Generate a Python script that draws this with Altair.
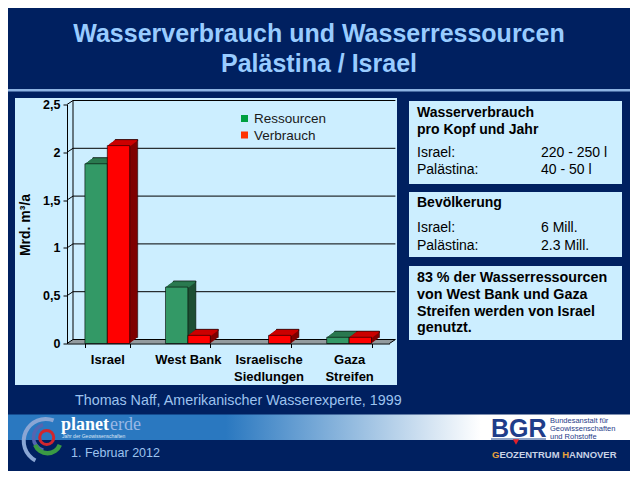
import altair as alt
import pandas as pd

# ---------------- data ----------------
categories = ["Israel", "West Bank", "Israelische Siedlungen", "Gaza Streifen"]
series = ["Ressourcen", "Verbrauch"]
ressourcen = [1.88, 0.59, 0.0, 0.065]
verbrauch = [2.07, 0.085, 0.085, 0.065]
y_ticks = [0, 0.5, 1, 1.5, 2, 2.5]

title_lines = ["Wasserverbrauch und Wasserressourcen", "Palästina / Israel"]
box1_head = ["Wasserverbrauch", "pro Kopf und Jahr"]
box1_rows = [("Israel:", "220 - 250 l"), ("Palästina:", "40 - 50 l")]
box2_head = ["Bevölkerung"]
box2_rows = [("Israel:", "6 Mill."), ("Palästina:", "2.3 Mill.")]
box3_lines = ["83 % der Wasserressourcen", "von West Bank und Gaza",
              "Streifen werden von Israel", "genutzt."]
source_text = "Thomas Naff, Amerikanischer Wasserexperte, 1999"
date_text = "1. Februar 2012"
y_title = "Mrd. m³/a"

rows = []
for c, r, v in zip(categories, ressourcen, verbrauch):
    rows.append({"category": c, "series": series[0], "value": r})
    rows.append({"category": c, "series": series[1], "value": v})
bars = pd.DataFrame(rows)
bars_nz = bars[bars["value"] > 0].copy()
bars_nz["zero"] = 0.0
grid = pd.DataFrame({"v": y_ticks})
one = pd.DataFrame({"_": [0]})

# ---------------- layout ----------------
W, H = 322.4, 239
OX, OY = 67, 104.5          # page position of plot origin
FONT = "Liberation Sans"
NAVY = "#002060"
PANEL = "#cceeff"
DX, DY, NL = 8, -6, 10       # bar depth
WDX, WDY = 6, -4             # wall depth
PAD_IN, PAD_OUT = 0.444, 0.222
BW = (W / len(categories)) * (1 - PAD_IN) / len(series)   # width of one bar

FRONT = {"Ressourcen": "#339966", "Verbrauch": "#ff0000"}
TOP = {"Ressourcen": "#2b7a50", "Verbrauch": "#cc0000"}
SIDE = {"Ressourcen": "#1d4f33", "Verbrauch": "#7f0000"}


def px(x):
    return x - OX


def py(y):
    return y - OY


def text(s, x, y, size, color="#000000", bold=False, align="left",
         baseline="alphabetic", angle=None, font=FONT):
    kw = dict(fontSize=size, color=color, fontWeight="bold" if bold else "normal",
              align=align, baseline=baseline, font=font)
    if angle is not None:
        kw["angle"] = angle
    return alt.Chart(one).mark_text(**kw).encode(
        x=alt.value(px(x)), y=alt.value(py(y)), text=alt.value(s))


def rect(x1, y1, x2, y2, color=None, **kw):
    if color is not None:
        kw["color"] = color
    return alt.Chart(one).mark_rect(**kw).encode(
        x=alt.value(px(x1)), x2=alt.value(px(x2)),
        y=alt.value(py(y1)), y2=alt.value(py(y2)))


def arc(cx, cy, r1, r2, t1, t2, color):
    return alt.Chart(one).mark_arc(color=color).encode(
        x=alt.value(px(cx)), y=alt.value(py(cy)),
        theta=alt.value(t1), theta2=alt.value(t2),
        radius=alt.value(r1), radius2=alt.value(r2))


x_axis = alt.Axis(title=None, tickBand="extent", labelAngle=0,
                  labelExpr="datum.label == 'West Bank' ? datum.label : split(datum.label, ' ')",
                  labelFont=FONT, labelFontSize=13, labelFontWeight="bold",
                  labelColor="#000000", labelPadding=6, labelLineHeight=16.5,
                  labelOverlap=False, domainColor="#000000", domainWidth=1,
                  tickColor="#000000", tickSize=4, tickWidth=1, grid=False, zindex=1)
y_axis = alt.Axis(title=None, values=y_ticks,
                  labelExpr="replace(format(datum.value, '~g'), '.', ',')",
                  labelFont=FONT, labelFontSize=12.5, labelFontWeight="bold",
                  labelColor="#000000", labelPadding=3, domainColor="#000000",
                  tickColor="#000000", tickSize=4, grid=False, zindex=1)
XE = alt.X("category:N", sort=categories,
           scale=alt.Scale(domain=categories, paddingInner=PAD_IN, paddingOuter=PAD_OUT),
           axis=x_axis)


def YE(field):
    return alt.Y(f"{field}:Q", scale=alt.Scale(domain=[0, 2.5], nice=False, zero=True),
                 axis=y_axis, stack=None)


L = []
# slide decorations
L.append(rect(0, 89, 638, 91.5, "#8db3e2"))
L.append(text(title_lines[0], 319, 42.3, 25, "#99ccff", bold=True, align="center"))
L.append(text(title_lines[1], 319, 72.3, 25, "#99ccff", bold=True, align="center"))
L.append(rect(15, 98, 397, 385, PANEL))
L.append(rect(409, 101, 622, 184, PANEL))
L.append(rect(409, 192, 622, 257, PANEL))
L.append(rect(409, 266, 622, 340, PANEL))

# floor (gray parallelogram)
for i in range(4):
    sh = (i + 0.5) * WDX / 4
    L.append(alt.Chart(one).mark_rect(color="#808080").encode(
        x=alt.value(sh), x2=alt.value(W + sh),
        y=alt.value(H - (i + 1) * (-WDY) / 4), y2=alt.value(H - i * (-WDY) / 4)))

# back wall grid
L.append(alt.Chart(grid).mark_rule(color="#000000", strokeWidth=1, yOffset=WDY, y2Offset=WDY).encode(
    x=alt.value(WDX), x2=alt.value(W + WDX), y=YE("v"), y2=alt.Y2("v")))
L.append(alt.Chart(grid).mark_rule(color="#000000", strokeWidth=1, y2Offset=WDY).encode(
    x=alt.value(0), x2=alt.value(WDX), y=YE("v"), y2=alt.Y2("v")))
L.append(alt.Chart(one).mark_rule(color="#000000", strokeWidth=1).encode(
    x=alt.value(WDX), y=alt.value(WDY), y2=alt.value(H + WDY)))
L.append(alt.Chart(one).mark_rule(color="#000000", strokeWidth=1).encode(
    x=alt.value(W), x2=alt.value(W + WDX), y=alt.value(H), y2=alt.value(H + WDY)))

# 3D bars, one series at a time (fixed colours, fixed sub-band offset)
for i, s in enumerate(series):
    d = bars_nz[bars_nz["series"] == s]
    base = (i - (len(series) - 1) / 2) * BW
    # side extrusion (the backmost layer carries the outline of the back edges)
    for k in range(NL, 0, -1):
        off = DY * k / NL
        extra = dict(stroke="#000000", strokeWidth=0.5) if k == NL else {}
        L.append(alt.Chart(d).mark_bar(color=SIDE[s], width=BW, xOffset=base + DX * k / NL,
                                       yOffset=off, y2Offset=off, **extra).encode(
            x=XE, y=YE("value"), y2=alt.Y2("zero")))
    # top face
    for k in range(NL, 0, -1):
        off = DY * k / NL
        extra = dict(stroke="#000000", strokeWidth=0.5) if k == NL else {}
        L.append(alt.Chart(d).mark_bar(color=TOP[s], width=BW, xOffset=base + DX * k / NL,
                                       yOffset=off, y2Offset=off + 1.2, **extra).encode(
            x=XE, y=YE("value"), y2=alt.Y2("value")))
    # front face
    L.append(alt.Chart(d).mark_bar(color=FRONT[s], width=BW, xOffset=base,
                                   stroke="#000000", strokeWidth=0.6).encode(
        x=XE, y=YE("value"), y2=alt.Y2("zero")))

# legend
L.append(rect(241, 115, 248, 122, "#00a040"))
L.append(rect(241, 131.5, 248, 138.5, "#ff3300"))
L.append(text(series[0], 254, 123.3, 13.5, "#1a1a1a"))
L.append(text(series[1], 254, 140, 13.5, "#1a1a1a"))

# y title
L.append(text(y_title, 30, 225, 14, "#000000", bold=True, align="center", angle=270))

# info boxes
TX, VX = 417, 541
L.append(text(box1_head[0], TX, 116.7, 14, bold=True))
L.append(text(box1_head[1], TX, 134.3, 14, bold=True))
for (a, b), yy in zip(box1_rows, [156.7, 174.3]):
    L.append(text(a, TX, yy, 14))
    L.append(text(b, VX, yy, 14))
L.append(text(box2_head[0], TX, 206.7, 14, bold=True))
for (a, b), yy in zip(box2_rows, [232.3, 250]):
    L.append(text(a, TX, yy, 14))
    L.append(text(b, VX, yy, 14))
for s, yy in zip(box3_lines, [281.7, 299, 315.7, 332.3]):
    L.append(text(s, TX, yy, 14.3, bold=True))

# footer
L.append(text(source_text, 75, 405, 14.3, "#9dc3ef"))
grad = alt.Gradient(gradient="linear", x1=0, x2=1, y1=0, y2=0,
                    stops=[alt.GradientStop(color="#2a78c0", offset=0),
                           alt.GradientStop(color="#2a78c0", offset=0.35),
                           alt.GradientStop(color="#ffffff", offset=0.76),
                           alt.GradientStop(color="#ffffff", offset=1)])
L.append(rect(8, 414.5, 630, 440, fill=grad))
L.append(arc(45.7, 441, 24, 20, 3.63, 6.65, "#8aa6d4"))
L.append(arc(46.7, 437.5, 15, 11.5, 3.4, 6.0, "#5565b0"))
L.append(arc(47.5, 440, 15.5, 11, 1.95, 4.33, "#3a9a44"))
L.append(arc(46.7, 437.5, 8.5, 5.5, 0, 6.2832, "#d0262e"))
L.append(text("planet", 61, 430, 18, "#ffffff", bold=True, font="Liberation Serif"))
L.append(text("erde", 110, 430, 18, "#9ab8e6", font="Liberation Serif"))
L.append(text("Jahr der Geowissenschaften", 62, 437.5, 5, "#dde6f5"))
L.append(text(date_text, 71, 456.7, 12.5, "#9dc3ef"))
L.append(rect(491, 438, 546, 440, "#8fa3c7"))
L.append(text("BGR", 491, 437, 25, "#1f3d8a", bold=True))
L.append(alt.Chart(one).mark_point(shape="triangle-down", filled=True, color="#e0202a",
                                   size=40, opacity=1).encode(
    x=alt.value(px(516)), y=alt.value(py(442))))
for s, yy in zip(["Bundesanstalt für", "Geowissenschaften", "und Rohstoffe"], [423, 431, 439]):
    L.append(text(s, 550, yy, 7.5, "#1f3d8a"))
# GEOZENTRUM HANNOVER, with orange initials
GS = 9.5
gx = 492
L.append(text("G", gx, 458, GS, "#e8a23c", bold=True))
L.append(text("EOZENTRUM", gx + 0.778 * GS, 458, GS, "#c8d2e6", bold=True))
L.append(text("H", gx + 7.389 * GS, 458, GS, "#e8a23c", bold=True))
L.append(text("ANNOVER", gx + 8.111 * GS, 458, GS, "#c8d2e6", bold=True))

chart = alt.layer(*L).properties(
    width=W, height=H,
    padding={"left": OX - 8, "top": OY - 8, "right": 622 - (OX - 8) - W, "bottom": 463 - (OY - 8) - H},
    autosize=alt.AutoSizeParams(type="none"),
    background=NAVY,
).configure_view(strokeWidth=0).configure(font=FONT)

chart.save("out.html", embed_options={"renderer": "svg", "actions": False})
